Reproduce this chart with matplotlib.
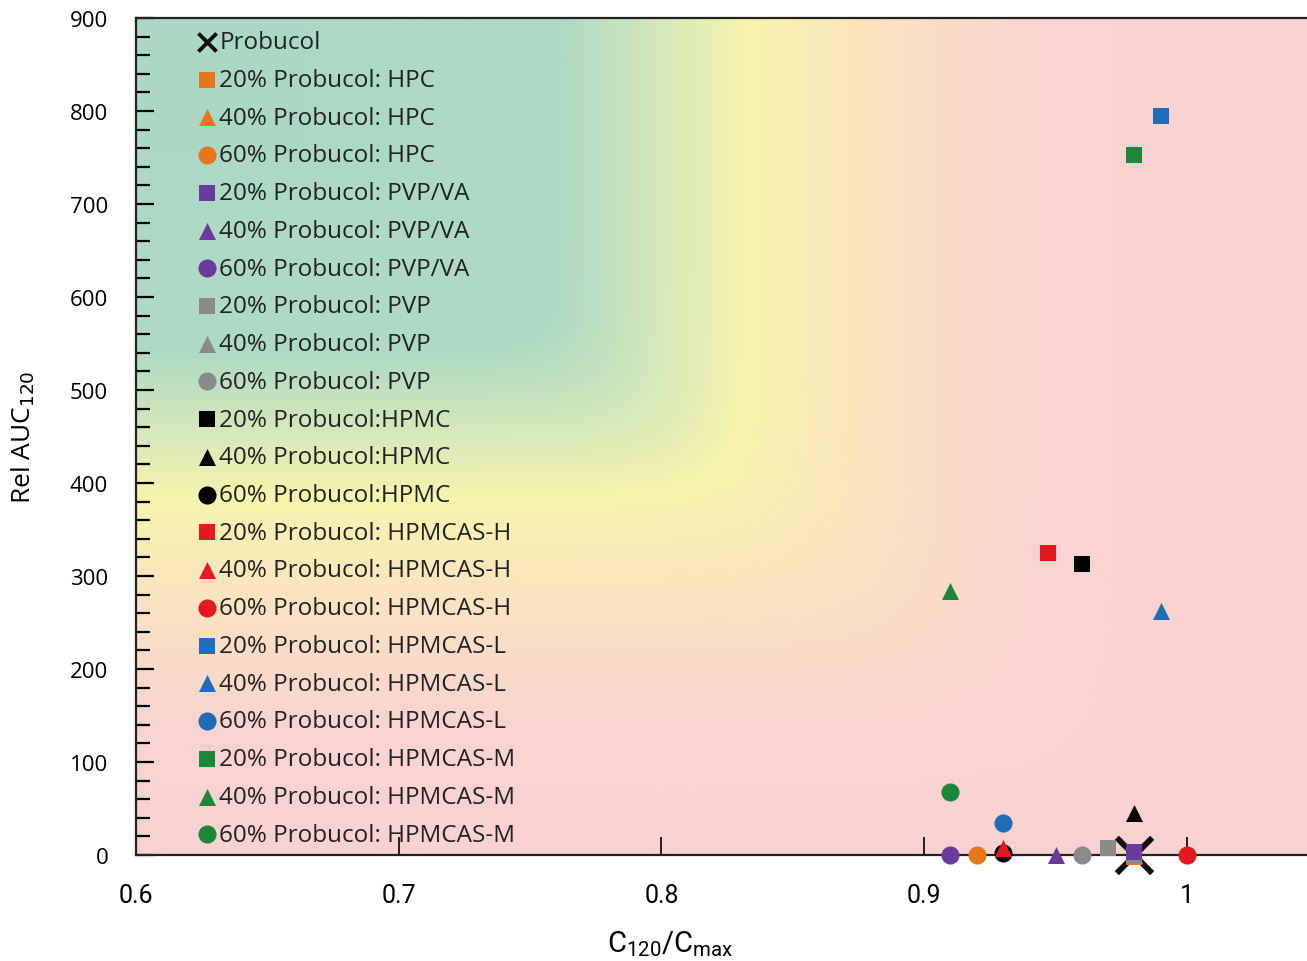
import numpy as np
import matplotlib.pyplot as plt
from matplotlib.colors import LinearSegmentedColormap

plt.rcParams['font.family'] = ['Open Sans', 'DejaVu Sans']

# data: (C120/Cmax, Rel AUC120) per formulation
labels = ['Probucol',
          '20% Probucol: HPC', '40% Probucol: HPC', '60% Probucol: HPC',
          '20% Probucol: PVP/VA', '40% Probucol: PVP/VA', '60% Probucol: PVP/VA',
          '20% Probucol: PVP', '40% Probucol: PVP', '60% Probucol: PVP',
          '20% Probucol:HPMC', '40% Probucol:HPMC', '60% Probucol:HPMC',
          '20% Probucol: HPMCAS-H', '40% Probucol: HPMCAS-H', '60% Probucol: HPMCAS-H',
          '20% Probucol: HPMCAS-L', '40% Probucol: HPMCAS-L', '60% Probucol: HPMCAS-L',
          '20% Probucol: HPMCAS-M', '40% Probucol: HPMCAS-M', '60% Probucol: HPMCAS-M']
c_ratio = [0.98,
           0.98, 0.98, 0.92,
           0.98, 0.95, 0.91,
           0.97, 0.98, 0.96,
           0.96, 0.98, 0.93,
           0.947, 0.93, 1.00,
           0.99, 0.99, 0.93,
           0.98, 0.91, 0.91]
rel_auc = [0,
           -2, 0, 0,
           3, 0, 0,
           8, 0, 0,
           313, 45, 2,
           325, 7, 0,
           795, 262, 34,
           753, 284, 68]

COLORS = {'HPC': '#e8761e', 'PVPVA': '#6b3a9c', 'PVP': '#8a8a8a', 'HPMC': '#000000',
          'H': '#e3191f', 'L': '#1f6db8', 'M': '#1c873a'}
series_colors = ['#000000'] + [COLORS[k] for k in ['HPC', 'PVPVA', 'PVP', 'HPMC', 'H', 'L', 'M'] for _ in range(3)]
series_markers = ['x'] + ['s', '^', 'o'] * 7
series_sizes = [650] + [120, 150, 170] * 7

fig = plt.figure(figsize=(13.07, 9.62), dpi=100)
ax = fig.add_axes([136/1307, 1 - 856/962, 1 - 136/1307, (856 - 19)/962])

# background gradient (green top-left -> yellow -> peach -> pink)
gx = np.linspace(0, 1, 600)
gy = np.linspace(1, 0, 450)
X, Y = np.meshgrid(gx, gy)
fx = X * 1.1
fy = 1 - Y
p = 12
s = (fx**p + fy**p)**(1/p)
cmap = LinearSegmentedColormap.from_list('bg', [
    (0.0, '#aad8c5'), (0.40, '#afdac5'), (0.50, '#d8e9ba'), (0.575, '#f7f4ae'),
    (0.70, '#fbe3c2'), (0.84, '#f8d4cf'), (1.0, '#f8d2d1')])
ax.imshow(np.clip(s, 0, 1), cmap=cmap, vmin=0, vmax=1, extent=(0, 1, 0, 1),
          transform=ax.transAxes, aspect='auto', zorder=0, interpolation='bilinear')

handles = []
for i, lab in enumerate(labels):
    z = 3
    if lab in ('40% Probucol: PVP', '20% Probucol: HPC', '40% Probucol: HPC'):
        z = 2.5
    if series_markers[i] == 'x':
        h = ax.scatter(c_ratio[i], rel_auc[i], marker='x', s=series_sizes[i], c='#111111',
                       linewidths=4.2, zorder=2.4, label=lab, clip_on=False)
    else:
        h = ax.scatter(c_ratio[i], rel_auc[i], marker=series_markers[i], s=series_sizes[i],
                       c=series_colors[i], linewidths=0, zorder=z, label=lab, clip_on=False)
    handles.append(h)

ax.set_xlim(0.6, 1.0457)
ax.set_ylim(0, 900)
ax.set_xticks([0.6, 0.7, 0.8, 0.9, 1.0])
ax.set_xticklabels(['0.6', '0.7', '0.8', '0.9', '1'])
ax.set_yticks(np.arange(0, 901, 100))
ax.set_yticks(np.arange(0, 901, 20), minor=True)
ax.tick_params(axis='y', which='major', direction='in', length=13, width=1.6, pad=20, labelsize=16)
ax.tick_params(axis='y', which='minor', direction='in', length=10, width=1.6)
ax.tick_params(axis='x', which='major', direction='in', length=13, width=1.2, pad=20, labelsize=18)
for lbl in ax.get_xticklabels():
    lbl.set_fontfamily(['Liberation Sans Narrow', 'Roboto'])
for sp in ['left', 'top', 'bottom']:
    ax.spines[sp].set_linewidth(1.6)
    ax.spines[sp].set_color('#222222')
ax.spines['right'].set_visible(False)

ax.set_xlabel(r'$\mathregular{C_{120}/C_{max}}$', fontfamily=['Liberation Sans Narrow', 'Roboto'],
              fontsize=21)
ax.xaxis.set_label_coords(0.456, -0.088)
ax.set_ylabel('Rel AUC$_{120}$', fontsize=19, labelpad=24)

leg = ax.legend(handles=handles, loc='upper left', bbox_to_anchor=(0.038, 0.997), frameon=False,
                prop={'family': 'Open Sans', 'size': 17.5}, handletextpad=-0.2, labelspacing=0.565,
                borderaxespad=0, handlelength=1.4, scatterpoints=1)
leg.legend_handles[0].set_sizes([170])
leg.legend_handles[0].set_linewidths(2.8)
for t in leg.get_texts():
    t.set_color('#222222')

fig.savefig('out.png', dpi=100)
